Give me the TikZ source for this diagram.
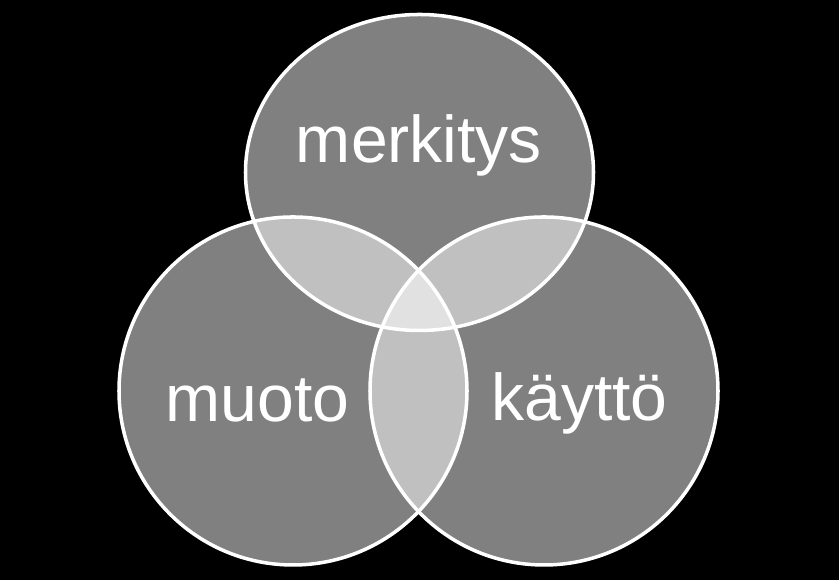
\documentclass[tikz,border=0pt]{standalone}
\usepackage{fontspec}
\setmainfont{Liberation Sans}
\definecolor{setgray}{HTML}{808080}
\definecolor{pairgray}{HTML}{C0C0C0}
\definecolor{coregray}{HTML}{E1E1E1}
\tikzset{
  setfill/.style={fill=setgray},
  pairfill/.style={fill=pairgray},
  corefill/.style={fill=coregray},
  setline/.style={draw=white, line width=1pt},
  setlabel/.style={
    text=white,
    font=\fontsize{18.8}{22}\selectfont,
    anchor=base,
    inner sep=0pt
  }
}
\newcommand{\vennTop}{(419.5,407.5) ellipse [x radius=174, y radius=158]}
\newcommand{\vennLeft}{(293,189) circle [radius=174]}
\newcommand{\vennRight}{(544,189) circle [radius=174]}

\begin{document}
\begin{tikzpicture}[x=0.01cm, y=0.01cm]
  \fill[black] (0,0) rectangle (839,580);
  \useasboundingbox (0,0) rectangle (839,580);

  % the three sets
  \fill[setfill] \vennTop;
  \fill[setfill] \vennLeft;
  \fill[setfill] \vennRight;

  % pairwise overlaps
  \begin{scope}
    \clip \vennTop;
    \fill[pairfill] \vennLeft;
    \fill[pairfill] \vennRight;
  \end{scope}
  \begin{scope}
    \clip \vennLeft;
    \fill[pairfill] \vennRight;
  \end{scope}

  % common part
  \begin{scope}
    \clip \vennTop;
    \clip \vennLeft;
    \fill[corefill] \vennRight;
  \end{scope}

  \draw[setline] \vennTop;
  \draw[setline] \vennLeft;
  \draw[setline] \vennRight;

  \node[setlabel] (merkitys) at (419,417) {merkitys};
  \node[setlabel] (muoto) at (257.5,158) {muoto};
  \node[setlabel] (kaytto) at (579.5,159) {käyttö};
\end{tikzpicture}
\end{document}
